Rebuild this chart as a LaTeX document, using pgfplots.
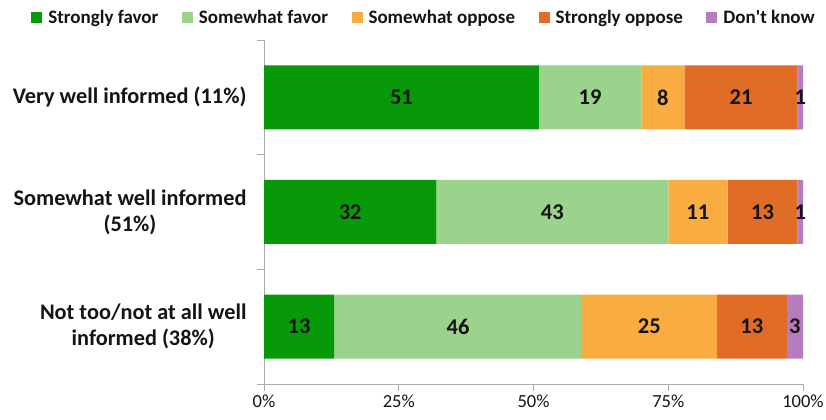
\documentclass[border=0pt]{standalone}
\usepackage{pgfplots}
\pgfplotsset{compat=1.18}
\usepackage{fontspec}
\setmainfont{Carlito}
\definecolor{sf}{RGB}{8,153,8}
\definecolor{smf}{RGB}{155,210,140}
\definecolor{so}{RGB}{249,173,64}
\definecolor{sto}{RGB}{224,108,38}
\definecolor{dk}{RGB}{181,124,192}
\definecolor{axgray}{RGB}{170,170,170}
\definecolor{txt}{RGB}{20,20,20}
\begin{document}
\begin{tikzpicture}
\useasboundingbox (0,0) rectangle (826bp,420bp);
\begin{axis}[
  at={(264bp,36bp)}, anchor=south west,
  scale only axis, width=539bp, height=344bp,
  xbar stacked, bar width=64bp,
  xmin=0, xmax=100, ymin=-0.5, ymax=2.5,
  /pgf/number format/assume math mode=true,
  axis x line*=bottom, axis y line*=left,
  axis line style={draw=axgray, line width=0.9bp},
  tick style={draw=axgray, line width=0.9bp},
  tick align=outside,
  major tick length=7bp, minor tick length=7bp,
  xtick={0,25,50,75,100},
  xticklabel={\pgfmathprintnumber{\tick}\%},
  xticklabel style={font=\fontsize{18.5bp}{22bp}\selectfont, text=txt},
  ytick={0,1,2},
  yticklabels={{Not too/not at all well\\informed (38\%)},{Somewhat well informed\\(51\%)},{Very well informed (11\%)}},
  yticklabel style={align=center, font=\bfseries\fontsize{22.3bp}{26bp}\selectfont, text=txt, xshift=-7bp},
  major y tick style={draw=none},
  minor ytick={-0.5,0.5,1.5,2.5},
  legend columns=5,
  legend style={at={(-0.432,1.064)}, anchor=west, draw=none, fill=none, inner sep=0pt,
    font=\bfseries\fontsize{19bp}{22bp}\selectfont, text=txt,
    /tikz/every odd column/.append style={column sep=4bp},
    /tikz/every even column/.append style={column sep=21.5bp}},
  legend image code/.code={\fill[#1] (0bp,-5.5bp) rectangle (11bp,5.5bp);},
]
\addplot[fill=sf, draw=none] coordinates {(13,0) (32,1) (51,2)};
\addplot[fill=smf, draw=none] coordinates {(46,0) (43,1) (19,2)};
\addplot[fill=so, draw=none] coordinates {(25,0) (11,1) (8,2)};
\addplot[fill=sto, draw=none] coordinates {(13,0) (13,1) (21,2)};
\addplot[fill=dk, draw=none] coordinates {(3,0) (1,1) (1,2)};
\legend{Strongly favor, Somewhat favor, Somewhat oppose, Strongly oppose, Don\textquotesingle t know}
\end{axis}
\begin{axis}[
  at={(264bp,36bp)}, anchor=south west,
  scale only axis, width=539bp, height=344bp,
  xmin=0, xmax=100, ymin=-0.5, ymax=2.5,
  hide axis,
  /pgf/number format/assume math mode=true,
  point meta=explicit,
  nodes near coords,
  every node near coord/.style={anchor=center, text=txt, font=\bfseries\fontsize{22.5bp}{26bp}\selectfont},
]
\addplot[only marks, mark=*, mark size=0pt, mark options={draw=none, fill=none}] coordinates {
  (6.5,0) [13] (36,0) [46] (71.5,0) [25] (90.5,0) [13] (98.5,0) [3]
  (16,1) [32] (53.5,1) [43] (80.5,1) [11] (92.5,1) [13] (99.5,1) [1]
  (25.5,2) [51] (60.5,2) [19] (74,2) [8] (88.5,2) [21] (99.5,2) [1]
};
\end{axis}
\end{tikzpicture}
\end{document}
